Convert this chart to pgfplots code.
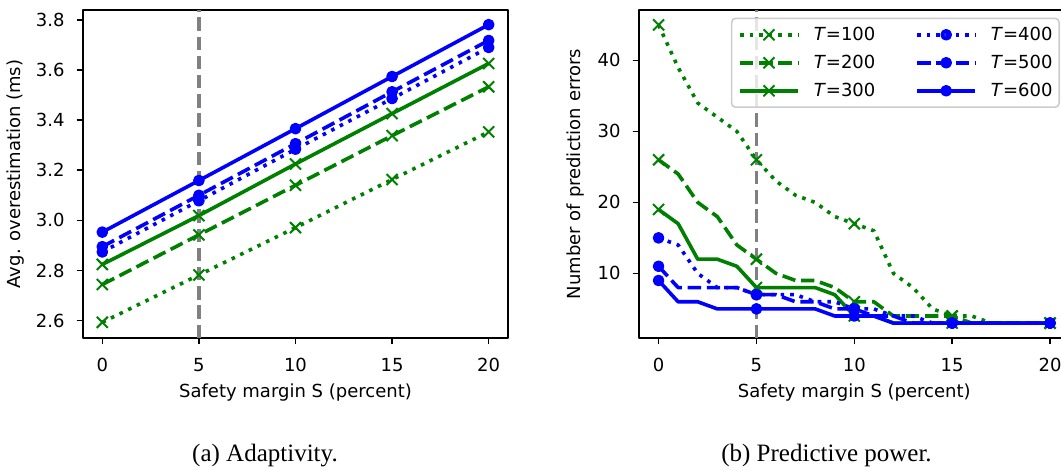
\documentclass[border=0pt]{standalone}
\usepackage{pgfplots}
\pgfplotsset{compat=1.18}
\usepackage{pgfplotstable}
\usepackage{fontspec}
\setmainfont{DejaVu Sans}
\newfontfamily\capfont{Liberation Serif}

\definecolor{mplgreen}{RGB}{0,128,0}
\definecolor{mplblue}{RGB}{0,0,255}
\definecolor{mplgray}{RGB}{128,128,128}

\pgfplotstableread{
x T100 T200 T300 T400 T500 T600
0 2.593 2.744 2.824 2.874 2.895 2.953
5 2.782 2.942 3.019 3.078 3.100 3.159
10 2.971 3.140 3.225 3.284 3.306 3.366
15 3.163 3.338 3.426 3.486 3.513 3.574
20 3.353 3.533 3.626 3.690 3.718 3.781
}\adapt

\pgfplotstableread{
x T100 T200 T300 T400 T500 T600
0 45 26 19 15 11 9
1 39 24 17 14 8 6
2 34 20 12 10 8 6
3 32 18 12 8 8 5
4 30 14 11 8 8 5
5 26 12 8 7 7 5
6 23 10 8 7 7 5
7 21 9 8 7 6 5
8 20 9 8 6 6 5
9 18 8 7 6 5 4
10 17 6 4 5 5 4
11 16 6 4 5 4 4
12 10 4 3 4 4 3
13 8 4 3 4 3 3
14 5 4 3 3 3 3
15 4 4 3 3 3 3
16 4 3 3 3 3 3
17 3 3 3 3 3 3
18 3 3 3 3 3 3
19 3 3 3 3 3 3
20 3 3 3 3 3 3
}\pred

\pgfplotsset{
  common/.style={
    scale only axis, height=164pt,
    xmin=-1, xmax=21, xtick={0,5,10,15,20},
    axis line style={line width=0.75pt},
    tick align=outside, major tick length=3.2pt,
    tick style={line width=0.75pt, black},
    xtick pos=bottom, ytick pos=left,
    /pgf/number format/assume math mode=true,
    ticklabel style={font=\fontsize{9}{10}\selectfont},
    xticklabel style={anchor=north, inner sep=0pt, yshift=-6.8pt},
    yticklabel style={anchor=east, inner sep=0pt, xshift=-5.8pt},
    label style={font=\fontsize{9}{10}\selectfont},
    xlabel={Safety margin S (percent)},
    xlabel style={at={(axis description cs:0.5,-0.1665)}, anchor=center},
    line join=round,
  },
  sT100/.style={mplgreen, line width=1.8pt, dash pattern=on 1.8pt off 3pt, mark=x, mark size=3.9pt, mark options={solid, line width=1pt}},
  sT200/.style={mplgreen, line width=1.8pt, dash pattern=on 6.7pt off 2.9pt, mark=x, mark size=3.9pt, mark options={solid, line width=1pt}},
  sT300/.style={mplgreen, line width=1.8pt, solid, mark=x, mark size=3.9pt, mark options={solid, line width=1pt}},
  sT400/.style={mplblue, line width=1.8pt, dash pattern=on 1.8pt off 3pt, mark=*, mark size=2pt, mark options={solid, fill=mplblue, draw=none}},
  sT500/.style={mplblue, line width=1.8pt, dash pattern=on 6.7pt off 2.9pt, mark=*, mark size=2pt, mark options={solid, fill=mplblue, draw=none}},
  sT600/.style={mplblue, line width=1.8pt, solid, mark=*, mark size=2pt, mark options={solid, fill=mplblue, draw=none}},
  vline/.style={mplgray, line width=1.6pt, dash pattern=on 6.7pt off 2.9pt, forget plot},
}

\begin{document}
\begin{tikzpicture}
\useasboundingbox (0,0) rectangle (530.5pt,235.5pt);

% (a) Adaptivity
\begin{axis}[common,
  at={(41.5pt,66.5pt)}, anchor=south west,
  width=212.5pt,
  ymin=2.5305, ymax=3.8395,
  ytick={2.6,2.8,3.0,3.2,3.4,3.6,3.8},
  yticklabel style={/pgf/number format/.cd, fixed, fixed zerofill, precision=1},
  ylabel={Avg. overestimation (ms)},
  ylabel style={at={(axis description cs:-0.1588,0.5)}, anchor=center},
]
\addplot[sT100] table[x=x,y=T100] {\adapt};
\addplot[sT200] table[x=x,y=T200] {\adapt};
\addplot[sT300] table[x=x,y=T300] {\adapt};
\addplot[sT400] table[x=x,y=T400] {\adapt};
\addplot[sT500] table[x=x,y=T500] {\adapt};
\addplot[sT600] table[x=x,y=T600] {\adapt};
\addplot[vline] coordinates {(5,2.5305) (5,3.8395)};
\end{axis}

% (b) Predictive power
\begin{axis}[common,
  at={(319.5pt,66.5pt)}, anchor=south west,
  width=215.3pt,
  ymin=0.9, ymax=47.1,
  ytick={10,20,30,40},
  ylabel={Number of prediction errors},
  ylabel style={at={(axis description cs:-0.1475,0.5)}, anchor=center},
  legend columns=3, transpose legend,
  legend cell align=left,
  legend image code/.code={\draw[#1, mark repeat=2, mark phase=2] plot coordinates {(0pt,0pt) (14.5pt,0pt) (29pt,0pt)};},
  legend style={at={(axis description cs:1,1)}, anchor=north east, xshift=-4.8pt, yshift=-3.8pt,
    draw=black!20, line width=0.8pt, rounded corners=2pt, fill=white, fill opacity=0.8, text opacity=1, draw opacity=1,
    font=\fontsize{9}{10}\selectfont, inner xsep=3.3pt, inner ysep=4.4pt,
    nodes={inner sep=0pt, text height=6.8pt, text depth=0.8pt},
    column sep=7pt, row sep=6.4pt,
    /tikz/every even column/.append style={column sep=20pt}},
]
\addplot[sT100, mark repeat=5] table[x=x,y=T100] {\pred};
\addplot[sT200, mark repeat=5] table[x=x,y=T200] {\pred};
\addplot[sT300, mark repeat=5] table[x=x,y=T300] {\pred};
\addplot[sT400, mark repeat=5] table[x=x,y=T400] {\pred};
\addplot[sT500, mark repeat=5] table[x=x,y=T500] {\pred};
\addplot[sT600, mark repeat=5] table[x=x,y=T600] {\pred};
\addplot[vline] coordinates {(5,0.9) (5,47.1)};
\legend{\textit{T}=100,\textit{T}=200,\textit{T}=300,\textit{T}=400,\textit{T}=500,\textit{T}=600}
\end{axis}

\node[font=\capfont\fontsize{12.5}{14}\selectfont, anchor=base] at (132.5pt,4.65pt) {(a) Adaptivity.};
\node[font=\capfont\fontsize{12.5}{14}\selectfont, anchor=base] at (413.25pt,4.65pt) {(b) Predictive power.};
\end{tikzpicture}
\end{document}
